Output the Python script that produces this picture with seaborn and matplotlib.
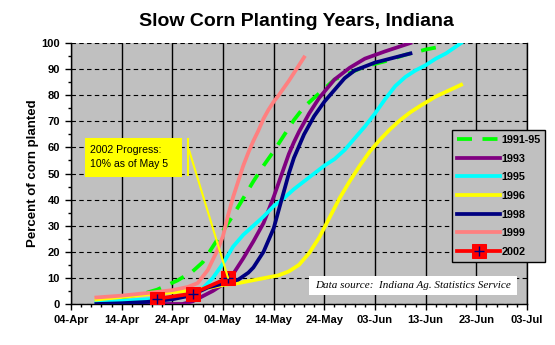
import numpy as np
import pandas as pd
import matplotlib
matplotlib.use("Agg")
import matplotlib.pyplot as plt
import matplotlib.dates as mdates
from matplotlib.patches import Rectangle
from matplotlib.lines import Line2D
from matplotlib.legend_handler import HandlerTuple
from matplotlib.ticker import FixedLocator, MultipleLocator
import seaborn as sns

plt.rcParams['font.family'] = ['Liberation Sans', 'DejaVu Sans']

YEAR = "2002-"
title = "Slow Corn Planting Years, Indiana"
ylabel = "Percent of corn planted"
note_text = "2002 Progress:\n10% as of May 5"
source_text = "Data source:  Indiana Ag. Statistics Service"

series_names = ["1991-95", "1993", "1995", "1996", "1998", "1999", "2002"]
series_colors = ["#00FF00", "#800080", "#00FFFF", "#FFFF00", "#000080", "#FF8080", "#FF0000"]

dates_9195 = ["04-14", "04-18", "04-21", "04-25", "04-28", "04-30", "05-02", "05-04", "05-06",
              "05-08", "05-10", "05-12", "05-14", "05-16", "05-18", "05-20", "05-22", "05-24",
              "05-26", "05-29", "06-01", "06-05", "06-09", "06-13", "06-17"]
vals_9195 = [2.5, 3.8, 5.5, 9, 12.5, 16, 22, 28, 34, 40.5, 47, 53, 58.5, 64.5, 70.5, 75.5, 79,
             82.5, 86, 88.5, 91, 93, 95.5, 97.5, 99]

dates_1993 = ["04-18", "04-26", "04-28", "04-30", "05-02", "05-04", "05-06", "05-08", "05-10",
              "05-12", "05-13", "05-14", "05-15", "05-16", "05-17", "05-18", "05-19", "05-21",
              "05-23", "05-26", "05-29", "06-01", "06-05", "06-10"]
vals_1993 = [0, 0, 1, 3, 5, 7.5, 11.5, 17.5, 24, 31, 36, 41, 46.5, 52, 57.5, 62, 66, 73, 79, 86,
             90.5, 94, 96.8, 100]

dates_1995 = ["04-09", "04-14", "04-19", "04-24", "04-28", "04-30", "05-02", "05-04", "05-06",
              "05-08", "05-10", "05-12", "05-14", "05-16", "05-18", "05-20", "05-22", "05-24",
              "05-26", "05-28", "05-30", "06-01", "06-03", "06-05", "06-07", "06-09", "06-11",
              "06-13", "06-15", "06-17", "06-20"]
vals_1995 = [0.9, 1.2, 1.8, 2.5, 4, 6, 10, 15.5, 22, 26.5, 30, 33.5, 37.5, 40.5, 44, 47, 50, 53,
             55.5, 59, 63.5, 68, 73, 78.5, 83.5, 87, 89.5, 91.5, 94, 96, 100]

dates_1996 = ["04-09", "04-14", "04-19", "04-24", "04-29", "05-02", "05-04", "05-07", "05-11",
              "05-15", "05-17", "05-19", "05-21", "05-23", "05-25", "05-27", "05-29", "05-31",
              "06-02", "06-04", "06-06", "06-08", "06-10", "06-12", "06-15", "06-20"]
vals_1996 = [1.7, 2.7, 3.7, 4.5, 5.5, 6.5, 7.3, 8, 9.5, 11, 12.5, 15, 19.5, 25.5, 33, 40.5, 47,
             53, 58.5, 63, 67, 70.5, 73.5, 76, 79.5, 84]

dates_1998 = ["04-09", "04-14", "04-19", "04-24", "04-27", "04-29", "05-01", "05-04", "05-07",
              "05-09", "05-10", "05-11", "05-12", "05-13", "05-14", "05-15", "05-16", "05-17",
              "05-18", "05-19", "05-20", "05-22", "05-24", "05-26", "05-28", "05-30", "06-01",
              "06-03", "06-06", "06-10"]
vals_1998 = [0, 0.3, 0.8, 1.8, 3, 4.5, 6.3, 7.8, 9.3, 12, 14, 17, 20, 24.5, 29, 36, 43, 50, 56,
             60.5, 65, 72, 77.5, 82, 86.5, 89.5, 91, 92.5, 94, 96]

dates_1999 = ["04-09", "04-14", "04-19", "04-24", "04-27", "04-29", "05-01", "05-02", "05-03",
              "05-04", "05-05", "05-06", "05-07", "05-08", "05-09", "05-10", "05-11", "05-12",
              "05-13", "05-14", "05-15", "05-17", "05-19", "05-20"]
vals_1999 = [2.5, 3.2, 4.2, 5.3, 6.5, 8, 13, 17, 21, 26, 34, 41, 47, 53, 58, 62.5, 66.5, 71,
             74.5, 77.5, 80, 85.5, 91.5, 94.5]

dates_2002 = ["04-21", "04-28", "05-05"]
vals_2002 = [2, 4, 10]

all_dates = [dates_9195, dates_1993, dates_1995, dates_1996, dates_1998, dates_1999, dates_2002]
all_vals = [vals_9195, vals_1993, vals_1995, vals_1996, vals_1998, vals_1999, vals_2002]

frames = []
for name, ds, vs in zip(series_names, all_dates, all_vals):
    frames.append(pd.DataFrame({"series": name,
                                "date": pd.to_datetime([YEAR + d for d in ds]),
                                "pct": vs}))
df = pd.concat(frames, ignore_index=True)

x_start, x_end = pd.Timestamp("2002-04-04"), pd.Timestamp("2002-07-03")
major_dates = pd.date_range(x_start, x_end, freq="10D")
minor_dates = pd.date_range(x_start, x_end, freq="2D")

fig = plt.figure(figsize=(5.55, 3.45), dpi=100)
fig.patch.set_facecolor("white")
ax = fig.add_axes([71 / 555, 41 / 345, 456 / 555, 261 / 345])
ax.set_facecolor("#C0C0C0")

LW = 2.7
handles = []
for name, color in zip(series_names, series_colors):
    sub = df[df["series"] == name]
    if name == "1991-95":
        ls = (0, (4, 2.8))
    else:
        ls = "-"
    if name == "2002":
        sns.lineplot(data=sub, x="date", y="pct", ax=ax, color=color, linewidth=LW,
                     linestyle=ls, marker="s", markersize=10.5, markeredgecolor=color,
                     markerfacecolor=color, legend=False, errorbar=None, zorder=5)
        line = ax.lines[-1]
        sns.lineplot(data=sub, x="date", y="pct", ax=ax, color="#000080", linewidth=0,
                     marker="+", markersize=7, markeredgewidth=1,
                     markeredgecolor="#000080", legend=False, errorbar=None, zorder=6)
        plus = ax.lines[-1]
        handles.append((line, plus))
    else:
        sns.lineplot(data=sub, x="date", y="pct", ax=ax, color=color, linewidth=LW,
                     linestyle=ls, legend=False, errorbar=None, zorder=3)
        handles.append(ax.lines[-1])

ax.set_xlim(x_start, x_end)
ax.set_ylim(0, 100)
ax.xaxis.set_major_locator(FixedLocator(mdates.date2num(major_dates)))
ax.xaxis.set_minor_locator(FixedLocator(mdates.date2num(minor_dates)))
ax.xaxis.set_major_formatter(mdates.DateFormatter("%d-%b"))
ax.yaxis.set_major_locator(MultipleLocator(10))
ax.yaxis.set_minor_locator(MultipleLocator(5))

ax.set_axisbelow(True)
ax.grid(axis="x", which="major", color="black", linewidth=1, linestyle="-")
ax.grid(axis="y", which="major", color="black", linewidth=0.8, linestyle=(0, (4, 3)))

for s in ["left", "bottom", "right"]:
    ax.spines[s].set_color("black")
    ax.spines[s].set_linewidth(1)
ax.spines["top"].set_visible(False)

ax.tick_params(axis="both", which="major", length=4, width=1, color="black",
               labelsize=8, pad=4)
ax.tick_params(axis="both", which="minor", length=2, width=1, color="black")
for lab in ax.get_xticklabels() + ax.get_yticklabels():
    lab.set_fontweight("bold")

ax.set_xlabel("")
ax.set_ylabel(ylabel, fontsize=9.5, fontweight="bold")
ax.yaxis.set_label_coords(-0.07, 0.5)

fig.text(0.534, 0.939, title, ha="center", va="center", fontsize=14, fontweight="bold")

# yellow callout
ax.add_patch(Rectangle((0.0307, 0.4885), 0.2127, 0.1475, transform=ax.transAxes,
                       facecolor="#FFFF00", edgecolor="none", zorder=7))
ax.text(0.0417, 0.563, note_text, transform=ax.transAxes, ha="left", va="center",
        fontsize=7.6, linespacing=1.4, zorder=8)
ax.plot([0.2566, 0.2566], [0.494, 0.632], transform=ax.transAxes, color="#FFFF00",
        linewidth=1.5, zorder=7)
ax.annotate("", xy=(mdates.date2num(pd.Timestamp(YEAR + dates_2002[-1])), vals_2002[-1]),
            xycoords="data", xytext=(0.2588, 0.59), textcoords="axes fraction",
            arrowprops=dict(arrowstyle="-", color="#FFFF00", lw=1.5,
                            shrinkA=0, shrinkB=0), zorder=7)

# data source box
ax.add_patch(Rectangle((0.522, 0.0345), 0.456, 0.0725, transform=ax.transAxes,
                       facecolor="white", edgecolor="none", zorder=7))
ax.text(0.75, 0.071, source_text, transform=ax.transAxes, ha="center", va="center",
        fontsize=8, style="italic", family="Liberation Serif", zorder=8)

leg = fig.legend(handles, series_names, loc="upper left",
                 bbox_to_anchor=(452 / 555, 1 - 130 / 345), bbox_transform=fig.transFigure,
                 frameon=True, fancybox=False, edgecolor="black", facecolor="#C0C0C0",
                 framealpha=1, prop=dict(weight="bold", size=7.8), handlelength=4.0,
                 handletextpad=0.1, borderpad=0.45, labelspacing=0.8, borderaxespad=0,
                 numpoints=1, handler_map={tuple: HandlerTuple(ndivide=1)})
leg.get_frame().set_linewidth(1)

fig.savefig("out.png", dpi=100, facecolor="white")
